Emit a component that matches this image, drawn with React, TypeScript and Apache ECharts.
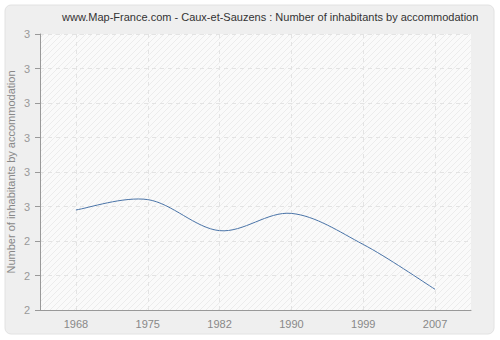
import React, { useEffect, useRef } from "react";
import * as echarts from "echarts";

const years = ["1968", "1975", "1982", "1990", "1999", "2007"];
const inhabitantsPerHome = [2.49, 2.52, 2.43, 2.48, 2.39, 2.26];
const titleText = "www.Map-France.com - Caux-et-Sauzens : Number of inhabitants by accommodation";
const yAxisName = "Number of inhabitants by accommodation";

function makeHatch(): HTMLCanvasElement {
  const c = document.createElement("canvas");
  c.width = 6;
  c.height = 6;
  const ctx = c.getContext("2d")!;
  ctx.fillStyle = "#fafafa";
  ctx.fillRect(0, 0, 6, 6);
  ctx.strokeStyle = "#ececec";
  ctx.lineWidth = 1;
  ctx.beginPath();
  ctx.moveTo(0, 6);
  ctx.lineTo(6, 0);
  ctx.moveTo(-3, 3);
  ctx.lineTo(3, -3);
  ctx.moveTo(3, 9);
  ctx.lineTo(9, 3);
  ctx.stroke();
  return c;
}

function splinePath(pts: number[][]): string {
  // Catmull-Rom spline through the points
  let d = `M${pts[0][0]},${pts[0][1]}`;
  for (let i = 0; i < pts.length - 1; i++) {
    const p0 = pts[Math.max(0, i - 1)];
    const p1 = pts[i];
    const p2 = pts[i + 1];
    const p3 = pts[Math.min(pts.length - 1, i + 2)];
    const c1x = p1[0] + (p2[0] - p0[0]) / 6;
    const c1y = p1[1] + (p2[1] - p0[1]) / 6;
    const c2x = p2[0] - (p3[0] - p1[0]) / 6;
    const c2y = p2[1] - (p3[1] - p1[1]) / 6;
    d += ` C${c1x},${c1y} ${c2x},${c2y} ${p2[0]},${p2[1]}`;
  }
  return d;
}

export default function App() {
  const ref = useRef<HTMLDivElement>(null);
  useEffect(() => {
    if (!ref.current) return;
    const chart = echarts.init(ref.current, undefined, { renderer: "svg" });
    const font = "Liberation Sans";
    const gridLine = { color: "#e3e3e3", type: [4, 4] as number[], width: 1 };
    chart.setOption({
      animation: false,
      backgroundColor: "#ffffff",
      graphic: [
        {
          type: "rect",
          shape: { x: 5, y: 5, width: 489, height: 329, r: 6 },
          style: { fill: "#efefef", stroke: "#e2e2e2", lineWidth: 1 },
          z: -10,
          silent: true,
        },
        {
          type: "text",
          x: 62,
          y: 11,
          style: { text: titleText, fill: "#333333", font: `11px "${font}"` },
        },
      ],
      grid: {
        left: 40,
        right: 29,
        top: 34,
        bottom: 30,
        containLabel: false,
        outerBoundsMode: "none",
        show: true,
        backgroundColor: { image: makeHatch(), repeat: "repeat" },
        borderWidth: 0,
      },
      xAxis: {
        type: "category",
        data: years,
        boundaryGap: true,
        axisLine: { lineStyle: { color: "#999999" } },
        axisTick: { alignWithLabel: true, length: 5, lineStyle: { color: "#999999" } },
        axisLabel: { color: "#888888", fontFamily: font, fontSize: 11, margin: 8 },
        splitLine: { show: false },
      },
      yAxis: {
        type: "value",
        min: 2.2,
        max: 3.0,
        interval: 0.1,
        name: yAxisName,
        nameLocation: "middle",
        nameGap: 24,
        nameMoveOverlap: false,
        nameTextStyle: { color: "#888888", fontFamily: font, fontSize: 11 },
        axisLine: { show: true, lineStyle: { color: "#999999" } },
        axisTick: { show: true, length: 5, lineStyle: { color: "#999999" } },
        axisLabel: {
          color: "#999999",
          fontFamily: font,
          fontSize: 11,
          margin: 10,
          formatter: (v: number) => String(Math.round(v + 1e-9)),
        },
        splitLine: { show: true, lineStyle: gridLine },
      },
      series: [
        {
          type: "line",
          data: inhabitantsPerHome.map(() => null),
          showSymbol: false,
          lineStyle: { opacity: 0 },
          markLine: {
            silent: true,
            symbol: ["none", "none"],
            label: { show: false },
            lineStyle: gridLine,
            data: years.map((_, i) => ({ xAxis: i })),
          },
          z: 1,
        },
        {
          type: "custom",
          data: inhabitantsPerHome.map((v, i) => [i, v]),
          encode: { x: 0, y: 1 },
          z: 5,
          renderItem: (params: any, api: any) => {
            if (params.dataIndex !== 0) return null;
            const pts = inhabitantsPerHome.map((v, i) => api.coord([i, v]));
            return {
              type: "path",
              shape: { pathData: splinePath(pts) },
              style: { fill: "none", stroke: "#4a74a8", lineWidth: 1 },
            };
          },
        },
      ],
    });
    return () => chart.dispose();
  }, []);
  return <div ref={ref} style={{ width: 500, height: 340, position: "absolute", left: 0, top: 0 }} />;
}
